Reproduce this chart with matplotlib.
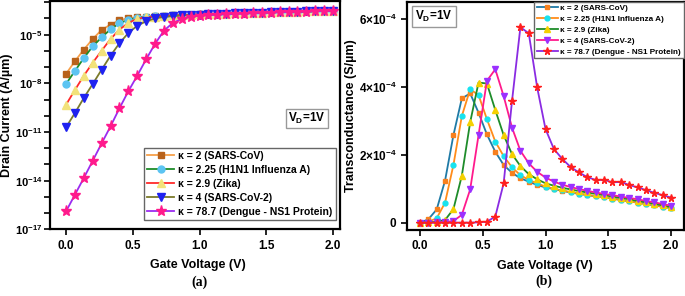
import numpy as np
import matplotlib
matplotlib.use("Agg")
import matplotlib.pyplot as plt
from matplotlib.ticker import NullFormatter

plt.rcParams['font.family'] = ['Liberation Sans', 'DejaVu Sans']
plt.rcParams['font.weight'] = 'bold'
plt.rcParams['mathtext.fontset'] = 'custom'
plt.rcParams['mathtext.rm'] = 'Liberation Sans'
plt.rcParams['mathtext.bf'] = 'Liberation Sans:bold'
plt.rcParams['mathtext.it'] = 'Liberation Sans:bold'

# gate voltage sweep, 31 points 0..2 V
vg = np.linspace(0.0, 2.0, 31)

labels = ["κ = 2 (SARS-CoV)", "κ = 2.25 (H1N1 Influenza A)", "κ = 2.9 (Zika)",
          "κ = 4 (SARS-CoV-2)", "κ = 78.7 (Dengue - NS1 Protein)"]

# drain current, log10(A/um)
id_k2 = [-7.42, -6.64, -5.92, -5.27, -4.71, -4.38, -4.12, -3.99, -3.93, -3.89, -3.86,
         -3.84, -3.82, -3.80, -3.78, -3.76, -3.74, -3.72, -3.70, -3.69, -3.67, -3.65,
         -3.64, -3.62, -3.61, -3.60, -3.58, -3.57, -3.56, -3.54, -3.53]
id_k225 = [-8.04, -7.24, -6.44, -5.72, -5.17, -4.67, -4.30, -4.08, -3.96, -3.91, -3.87,
           -3.84, -3.82, -3.80, -3.78, -3.76, -3.74, -3.72, -3.70, -3.69, -3.67, -3.65,
           -3.64, -3.62, -3.61, -3.60, -3.58, -3.57, -3.56, -3.54, -3.53]
id_k29 = [-9.32, -8.41, -7.53, -6.73, -5.99, -5.27, -4.69, -4.28, -4.02, -3.93, -3.89,
          -3.85, -3.82, -3.80, -3.78, -3.76, -3.74, -3.72, -3.70, -3.69, -3.67, -3.65,
          -3.64, -3.62, -3.61, -3.60, -3.58, -3.57, -3.56, -3.54, -3.53]
id_k4 = [-10.71, -9.83, -8.90, -8.04, -7.16, -6.30, -5.53, -4.90, -4.45, -4.18, -4.00,
         -3.91, -3.86, -3.82, -3.80, -3.77, -3.75, -3.73, -3.71, -3.69, -3.67, -3.66,
         -3.64, -3.63, -3.61, -3.60, -3.58, -3.57, -3.56, -3.54, -3.53]
id_k787 = [-15.89, -14.86, -13.83, -12.77, -11.70, -10.65, -9.54, -8.49, -7.53, -6.52, -5.57,
           -4.75, -4.28, -4.03, -3.90, -3.84, -3.80, -3.77, -3.74, -3.72, -3.70, -3.68,
           -3.66, -3.64, -3.62, -3.61, -3.59, -3.58, -3.56, -3.55, -3.54]

# transconductance, units of 1e-4 S/um
gm_k2 = [0.0, 0.10, 0.39, 1.24, 2.58, 3.66, 3.81, 3.24, 2.60, 2.09, 1.70, 1.47, 1.31,
         1.21, 1.11, 1.04, 0.99, 0.94, 0.89, 0.85, 0.81, 0.78, 0.75, 0.71, 0.67, 0.63,
         0.59, 0.55, 0.51, 0.47, 0.43]
gm_k225 = [0.0, 0.03, 0.13, 0.59, 1.70, 3.14, 3.93, 3.76, 3.05, 2.39, 1.96, 1.63, 1.40,
           1.26, 1.16, 1.06, 1.00, 0.95, 0.90, 0.86, 0.82, 0.78, 0.75, 0.71, 0.67, 0.63,
           0.59, 0.55, 0.51, 0.47, 0.43]
gm_k29 = [0.0, 0.01, 0.03, 0.08, 0.40, 1.38, 2.96, 4.13, 4.10, 3.32, 2.58, 2.02, 1.67,
          1.43, 1.28, 1.16, 1.09, 1.03, 0.98, 0.93, 0.89, 0.85, 0.81, 0.77, 0.73, 0.69,
          0.64, 0.60, 0.56, 0.51, 0.46]
gm_k4 = [0.0, 0.0, 0.01, 0.02, 0.05, 0.23, 0.98, 2.58, 4.18, 4.52, 3.73, 2.80, 2.12,
         1.75, 1.50, 1.33, 1.21, 1.12, 1.05, 0.99, 0.94, 0.89, 0.85, 0.81, 0.77, 0.73,
         0.69, 0.64, 0.60, 0.55, 0.50]
gm_k787 = [0.0, 0.0, 0.0, 0.0, 0.0, 0.0, 0.0, 0.01, 0.03, 0.18, 1.16, 3.59, 5.76, 5.58,
           3.99, 2.76, 2.17, 1.88, 1.64, 1.48, 1.34, 1.26, 1.26, 1.19, 1.20, 1.11, 1.04,
           0.96, 0.88, 0.81, 0.74]

id_all = [id_k2, id_k225, id_k29, id_k4, id_k787]
gm_all = [gm_k2, gm_k225, gm_k29, gm_k4, gm_k787]

# (line colour, marker face colour, marker, size)
style_a = [("#f7a04a", "#b8621b", "s", 5),
           ("#1e8c2a", "#5cc4f2", "o", 5),
           ("#ff2a2a", "#f2e27a", "^", 5.5),
           ("#7b7a2a", "#1f22f0", "v", 5.5),
           ("#9b2cf0", "#ff1a8c", "*", 8)]
style_b = [("#1f7aa6", "#f7801e", "s", 3.5),
           ("#ff8c1a", "#16e3f0", "o", 3.5),
           ("#1e8c2a", "#f5d000", "^", 4),
           ("#ff1a8c", "#9b30ff", "v", 4),
           ("#8a2be2", "#ff1f1f", "*", 5.5)]

fig = plt.figure(figsize=(6.85, 2.96), dpi=100)
ax1 = fig.add_axes([0.073, 0.225, 0.423, 0.770])
ax2 = fig.add_axes([0.594, 0.223, 0.404, 0.770])

for ys, lab, (lc, mc, mk, ms) in zip(id_all, labels, style_a):
    ax1.semilogy(vg, 10.0 ** np.array(ys), color=lc, lw=1.3, marker=mk, ms=ms,
                 mfc=mc, mec=mc, label=lab)

for ys, lab, (lc, mc, mk, ms) in zip(gm_all, labels, style_b):
    ax2.plot(vg, np.array(ys) * 1e-4, color=lc, lw=1.3, marker=mk, ms=ms,
             mfc=mc, mec=mc, label=lab)

# panel (a) axes
ax1.set_xlim(-0.12, 2.05)
ax1.set_ylim(1e-17, 1.1e-3)
major = [1e-17, 1e-14, 1e-11, 1e-8, 1e-5]
ax1.set_yticks(major)
ax1.set_yticklabels([r"$\mathbf{10^{%d}}$" % e for e in (-17, -14, -11, -8, -5)])
ax1.set_yticks([10.0 ** k for k in range(-17, -2)], minor=True)
ax1.yaxis.set_minor_formatter(NullFormatter())
ax1.set_xticks([0.0, 0.5, 1.0, 1.5, 2.0])
ax1.set_xticklabels(["0.0", "0.5", "1.0", "1.5", "2.0"])
ax1.set_xlabel("Gate Voltage (V)", fontsize=9, fontweight="bold")
ax1.set_ylabel("Drain Current (A/µm)", fontsize=9, fontweight="bold")
ax1.xaxis.set_label_coords(0.51, -0.13)
ax1.yaxis.set_label_coords(-0.128, 0.5)
ax1.text(0.952, 0.488, r"$\mathbf{V_{D}}$=1V", transform=ax1.transAxes, fontsize=8.5,
         fontweight="bold", ha="right", va="center",
         bbox=dict(boxstyle="square,pad=0.18", fc="white", ec="#999999", lw=1))
ax1.legend(loc="lower right", bbox_to_anchor=(0.986, 0.042), fontsize=7.5, frameon=True,
           fancybox=False, edgecolor="#666666", framealpha=1, handlelength=2.6,
           labelspacing=0.38, borderpad=0.3, handletextpad=0.4, borderaxespad=0.0)

# panel (b) axes
ax2.set_xlim(-0.104, 2.10)
ax2.set_ylim(-0.215e-4, 6.5e-4)
ax2.set_yticks([0, 2e-4, 4e-4, 6e-4])
ax2.set_yticklabels(["0", r"$\mathbf{2{\times}10^{-4}}$", r"$\mathbf{4{\times}10^{-4}}$",
                     r"$\mathbf{6{\times}10^{-4}}$"])
ax2.set_xticks([0.0, 0.5, 1.0, 1.5, 2.0])
ax2.set_xticklabels(["0.0", "0.5", "1.0", "1.5", "2.0"])
ax2.set_xlabel("Gate Voltage (V)", fontsize=9, fontweight="bold")
ax2.set_ylabel("Transconductance (S/µm)", fontsize=9, fontweight="bold")
ax2.xaxis.set_label_coords(0.5, -0.13)
ax2.yaxis.set_label_coords(-0.18, 0.5)
ax2.text(0.03, 0.936, r"$\mathbf{V_{D}}$=1V", transform=ax2.transAxes, fontsize=8.5,
         fontweight="bold", ha="left", va="center",
         bbox=dict(boxstyle="square,pad=0.25", fc="white", ec="#999999", lw=1))
ax2.legend(loc="upper right", fontsize=5.9, frameon=True, fancybox=False,
           edgecolor="#666666", framealpha=1, handlelength=2.6, labelspacing=0.38,
           borderpad=0.3, handletextpad=0.3, borderaxespad=0.0)

for ax in (ax1, ax2):
    for sp in ax.spines.values():
        sp.set_linewidth(1.6)
    ax.tick_params(which="both", direction="out", width=1.2, labelsize=8.5,
                   top=False, right=False)
    ax.tick_params(which="major", length=4)
    ax.tick_params(which="minor", length=4)
    for t in ax.get_xticklabels() + ax.get_yticklabels():
        t.set_fontweight("bold")
ax1.tick_params(axis="y", labelsize=8, pad=1.5)

fig.text(200 / 685, 1 - 282 / 296, "(a)", family="Liberation Serif", fontweight="bold",
         fontsize=10, ha="center", va="center")
fig.text(544 / 685, 1 - 281 / 296, "(b)", family="Liberation Serif", fontweight="bold",
         fontsize=10, ha="center", va="center")

fig.savefig("out.png", dpi=100)
